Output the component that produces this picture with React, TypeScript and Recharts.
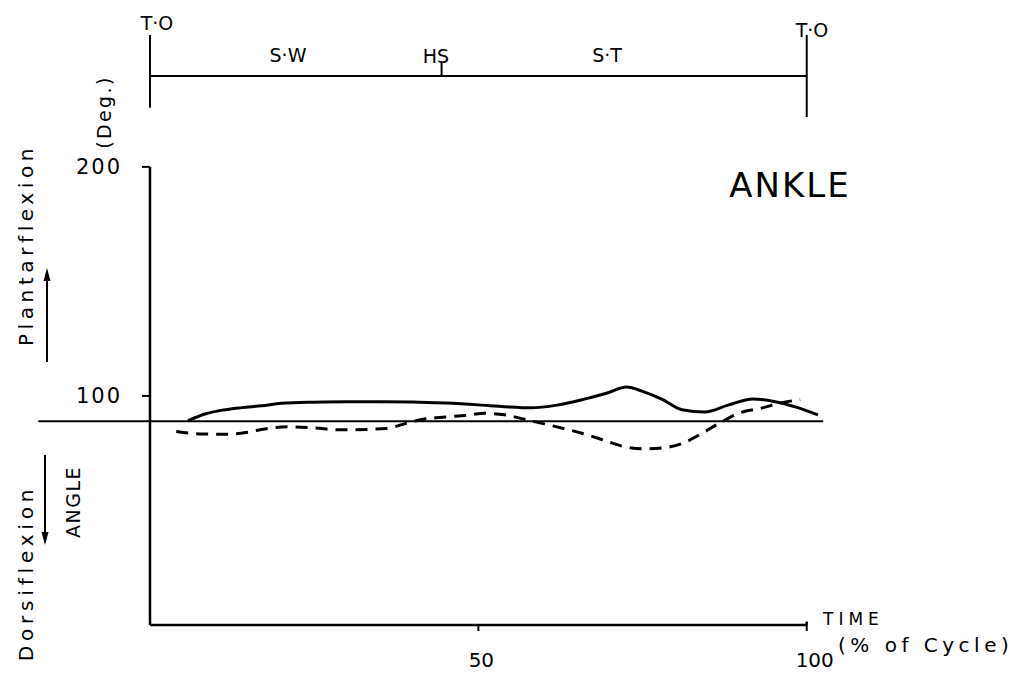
import React from 'react';
import { LineChart, Line, XAxis, YAxis, ReferenceLine } from 'recharts';

// gait cycle (% of cycle) vs ankle angle (deg)
const solidTime = [5.8, 8.5, 11, 14, 17, 20, 25, 30, 35, 40, 45, 50, 54, 58, 62, 66, 69.5, 72.6, 75, 78, 81, 84.5, 88, 91.8, 95, 98.5, 101.7];
const solidAngle = [89.2, 92.2, 93.8, 94.9, 95.7, 96.8, 97.3, 97.5, 97.5, 97.4, 96.9, 96.1, 95.3, 94.8, 96, 98.5, 101.2, 103.9, 102, 98.5, 94, 93, 96, 98.7, 97.6, 95, 91.7];

const dashedTime = [4, 8, 12, 15, 17.5, 21, 25, 29, 33, 36, 38.5, 41, 45, 48, 51, 54, 57, 60, 63, 66, 69, 72, 75, 78, 81, 84, 87, 90, 93, 96, 99];
const dashedAngle = [84.5, 83.4, 83.3, 84.2, 85.6, 86.5, 86, 85.2, 85.4, 85.8, 87.6, 89.5, 90.8, 91.5, 92.4, 91.8, 89.8, 87.8, 85.8, 83.5, 80.8, 78, 76.9, 77.3, 79.2, 83.6, 88.6, 92.8, 94.6, 96.9, 98.4];

const xTicks = [50, 100];
const yTicks = [100, 200];
const neutralAngle = 89;

// phase bar above the plot: T.O - HS - T.O
const phaseMarks = [0, 44.4, 100];
const phaseBarLevel = 239.7;

const solidData = solidTime.map((t, i) => ({ t, v: solidAngle[i] }));
const dashedData = dashedTime.map((t, i) => ({ t, v: dashedAngle[i] }));

const FONT = '"DejaVu Sans", sans-serif';
const W = 1019;
const H = 666;

// x tick labels sit a little right of the tick at 100 in the original
const XTick = (props: any) => {
  const { x, y, payload } = props;
  const dx = payload.value === 100 ? 8 : 3;
  return (
    <text x={x + dx} y={y} dy="0.71em" textAnchor="middle" fill="#000" fontSize={20} fontFamily={FONT}>
      {payload.value}
    </text>
  );
};

const App: React.FC = () => {
  return (
    <div style={{ position: 'relative', width: W, height: H, fontFamily: FONT, background: '#fff' }}>
      <LineChart width={W} height={H} margin={{ top: 10, right: 194, bottom: 0, left: 0 }}>
        <XAxis
          type="number"
          dataKey="t"
          domain={[0, 104]}
          ticks={xTicks}
          interval={0}
          allowDataOverflow
          axisLine={false}
          tickSize={6}
          tickMargin={22}
          height={49}
          tickLine={{ stroke: '#000', strokeWidth: 2 }}
          tick={<XTick />}
        />
        <YAxis
          type="number"
          domain={[0, 265]}
          ticks={yTicks}
          interval={0}
          allowDataOverflow
          axisLine={false}
          tickSize={8}
          tickMargin={20}
          width={142}
          tickLine={{ stroke: '#000', strokeWidth: 2 }}
          tick={{ fill: '#000', fontSize: 21, fontFamily: FONT, letterSpacing: 2 }}
        />
        {/* axes drawn as segments so they stop where the original does */}
        <ReferenceLine segment={[{ x: 0, y: 0 }, { x: 0, y: 200 }]} stroke="#000" strokeWidth={2.5} />
        <ReferenceLine segment={[{ x: 0, y: 0 }, { x: 100, y: 0 }]} stroke="#000" strokeWidth={2.5} />
        <ReferenceLine segment={[{ x: 100, y: 0 }, { x: 100, y: 1.5 }]} stroke="#000" strokeWidth={2.5} />
        <ReferenceLine
          segment={[{ x: -17, y: neutralAngle }, { x: 102.5, y: neutralAngle }]}
          stroke="#000"
          strokeWidth={2}
          ifOverflow="visible"
        />
        {/* phase bar */}
        <ReferenceLine segment={[{ x: phaseMarks[0], y: phaseBarLevel }, { x: phaseMarks[2], y: phaseBarLevel }]} stroke="#000" strokeWidth={2} />
        <ReferenceLine segment={[{ x: phaseMarks[0], y: 225.8 }, { x: phaseMarks[0], y: 257.6 }]} stroke="#000" strokeWidth={2} />
        <ReferenceLine segment={[{ x: phaseMarks[2], y: 221.8 }, { x: phaseMarks[2], y: 257.6 }]} stroke="#000" strokeWidth={2} />
        <ReferenceLine segment={[{ x: phaseMarks[1], y: phaseBarLevel }, { x: phaseMarks[1], y: 245.4 }]} stroke="#000" strokeWidth={2} />

        <Line data={solidData} dataKey="v" type="monotone" stroke="#000" strokeWidth={3} dot={false} isAnimationActive={false} />
        <Line data={dashedData} dataKey="v" type="monotone" stroke="#000" strokeWidth={3} strokeDasharray="12 8" dot={false} isAnimationActive={false} />
      </LineChart>

      <svg width={W} height={H} style={{ position: 'absolute', left: 0, top: 0, pointerEvents: 'none' }}>
        <g transform="translate(-8,-8)" fill="#000" fontFamily={FONT}>
          <text x={157} y={30} fontSize={19} textAnchor="middle">T·O</text>
          <text x={812} y={37} fontSize={19} textAnchor="middle">T·O</text>
          <text x={288} y={62} fontSize={19} textAnchor="middle">S·W</text>
          <text x={436} y={63} fontSize={19} textAnchor="middle">HS</text>
          <text x={607} y={62} fontSize={19} textAnchor="middle">S·T</text>

          <text x={790} y={197} fontSize={34} letterSpacing={2} textAnchor="middle">ANKLE</text>

          <text transform="translate(111,112) rotate(-90)" fontSize={19} letterSpacing={2.4} textAnchor="middle">(Deg.)</text>
          <text transform="translate(33,245) rotate(-90)" fontSize={20} letterSpacing={4.6} textAnchor="middle">Plantarflexion</text>
          <text transform="translate(33,573) rotate(-90)" fontSize={20} letterSpacing={4.8} textAnchor="middle">Dorsiflexion</text>
          <text transform="translate(80,502) rotate(-90)" fontSize={19} letterSpacing={1.5} textAnchor="middle">ANGLE</text>

          {/* direction arrows */}
          <line x1={47} y1={362} x2={47} y2={278} stroke="#000" strokeWidth={2} />
          <polygon points="47,268 43.5,281 50.5,281" fill="#000" />
          <line x1={45} y1={455} x2={45} y2={535} stroke="#000" strokeWidth={2} />
          <polygon points="45,545 41.5,532 48.5,532" fill="#000" />

          <text x={823} y={625} fontSize={17} letterSpacing={5}>TIME</text>
          <text x={838} y={652} fontSize={20} letterSpacing={4.5}>(% of Cycle)</text>
        </g>
      </svg>
    </div>
  );
};

export default App;
